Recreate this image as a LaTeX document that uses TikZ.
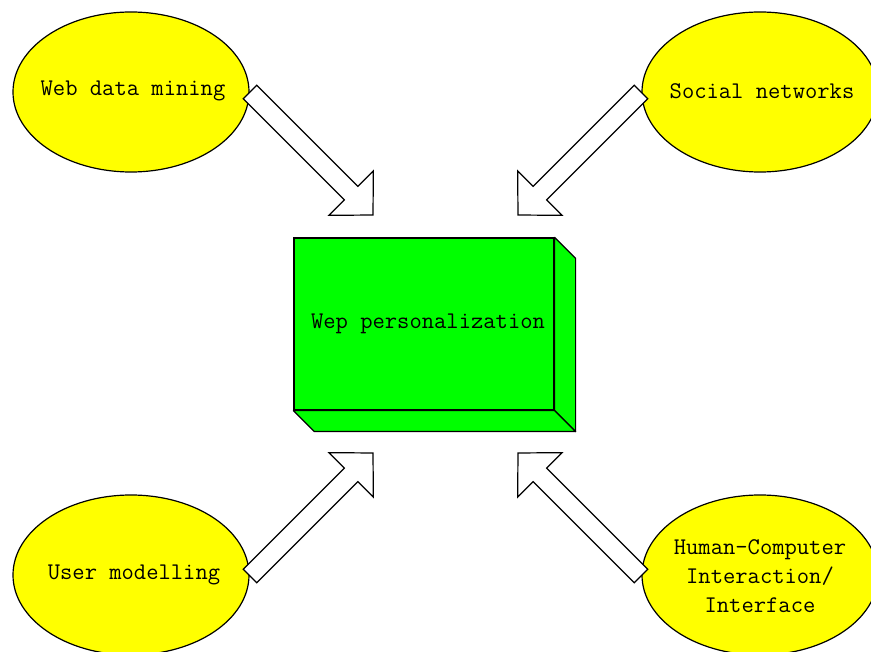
\documentclass[tikz,border=0pt]{standalone}
\usetikzlibrary{calc,shapes.geometric}

\definecolor{topicyellow}{RGB}{255,255,0}
\definecolor{coregreen}{RGB}{0,255,0}

\tikzset{
  labelfont/.style={font=\ttfamily\fontsize{23.9}{29}\selectfont},
  topic/.style={ellipse, draw=black, line width=1.2pt, fill=topicyellow,
    minimum width=236pt, minimum height=160pt, inner sep=0pt},
  topictext/.style={labelfont, align=center, inner sep=0pt},
  core/.style={rectangle, draw=black, line width=1.2pt, fill=coregreen,
    minimum width=260pt, minimum height=172pt, inner sep=0pt, labelfont},
  face/.style={draw=black, line width=1.2pt, fill=coregreen, line join=round},
  arrowbox/.style={draw=black, line width=1.2pt, fill=white, line join=miter}
}

% hollow block arrow from a tail point (#1) to a tip point (#2)
\newcommand\blockarrow[2]{%
  \path ($(#2)!31pt!(#1)$) coordinate (ab);
  \draw[arrowbox]
    ($(#1)!9.5pt!90:(#2)$) -- ($(ab)!9.5pt!90:(#2)$) --
    ($(ab)!31.5pt!90:(#2)$) -- (#2) --
    ($(ab)!31.5pt!-90:(#2)$) -- ($(ab)!9.5pt!-90:(#2)$) --
    ($(#1)!9.5pt!-90:(#2)$) -- cycle;
}

\begin{document}
\begin{tikzpicture}[x=1pt, y=-1pt]
  \useasboundingbox (0,0) rectangle (871,652);
  \fill[white] (0,0) rectangle (871,652);
  \clip (0,0) rectangle (871,652);

  % source topics
  \node[topic] (web)    at (131,92)  {};
  \node[topictext] (webL) at (133,91) {Web data mining};
  \node[topic] (social) at (760,92)  {};
  \node[topictext] (socialL) at (762,91) {Social networks};
  \node[topic] (user)   at (131,575) {};
  \node[topictext] (userL) at (134,575) {User modelling};
  \node[topic] (hci)    at (760,575) {};
  \node[topictext] (hciL) at (760,576) {Human-Computer\\Interaction/\\Interface};

  % central block with its extruded sides
  \node[core] (box) at (424,324) {};
  \node[topictext] (boxL) at (428,324) {Wep personalization};
  \draw[face] (box.north east) -- ++(21,21) -- ($(box.south east)+(21,21)$)
    -- (box.south east) -- cycle;
  \draw[face] (box.south west) -- (box.south east)
    -- ($(box.south east)+(21,21)$) -- ($(box.south west)+(21,21)$) -- cycle;

  % arrow ends
  \coordinate (webT)    at (250,92);  \coordinate (webH)    at (373,215);
  \coordinate (socialT) at (641,92);  \coordinate (socialH) at (518,215);
  \coordinate (userT)   at (250,576); \coordinate (userH)   at (373,453);
  \coordinate (hciT)    at (641,576); \coordinate (hciH)    at (518,453);

  \blockarrow{webT}{webH}
  \blockarrow{socialT}{socialH}
  \blockarrow{userT}{userH}
  \blockarrow{hciT}{hciH}
\end{tikzpicture}
\end{document}
